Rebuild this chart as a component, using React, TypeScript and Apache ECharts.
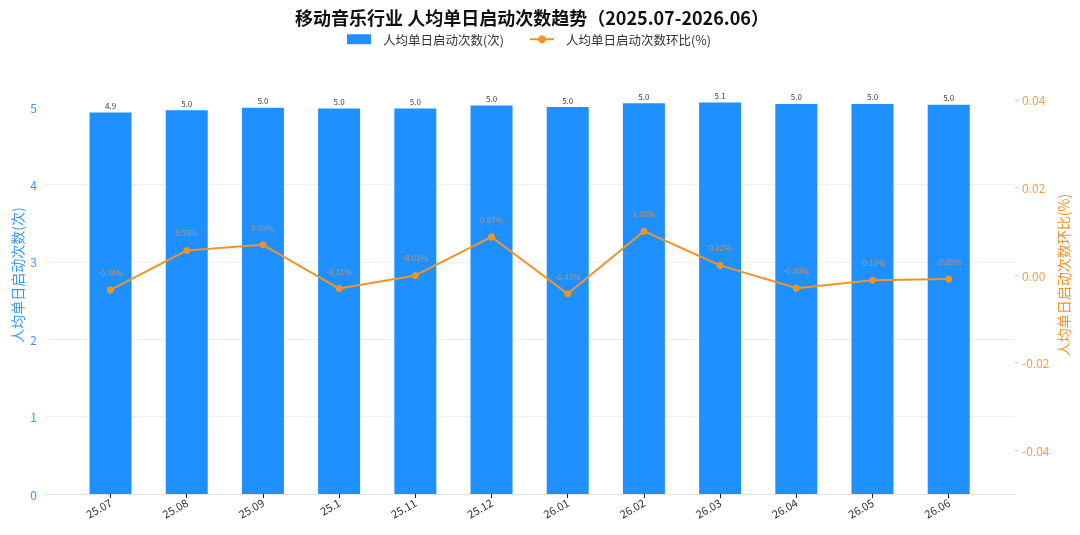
import React, { useEffect, useRef } from "react";
import * as echarts from "echarts";

const categories = ["25.07", "25.08", "25.09", "25.1", "25.11", "25.12", "26.01", "26.02", "26.03", "26.04", "26.05", "26.06"];
const launches = [4.93, 4.96, 4.99, 4.98, 4.98, 5.02, 5.0, 5.05, 5.06, 5.04, 5.04, 5.03];
const momChange = [-0.0034, 0.0056, 0.0069, -0.0031, -0.0001, 0.0087, -0.0043, 0.01, 0.0022, -0.003, -0.0012, -0.0009];
const leftTicks = [0, 1, 2, 3, 4, 5];
const rightTicks = [-0.04, -0.02, 0, 0.02, 0.04];

const FONT = "'Noto Sans CJK SC', 'Noto Sans', sans-serif";
const BLUE = "#1E90FF";
const ORANGE = "#F39325";

export default function App() {
  const ref = useRef<HTMLDivElement>(null);
  useEffect(() => {
    if (!ref.current) return;
    const chart = echarts.init(ref.current, undefined, { renderer: "svg" });
    const idx = categories.map((_, i) => i);
    chart.setOption({
      animation: false,
      textStyle: { fontFamily: FONT },
      title: {
        text: "移动音乐行业 人均单日启动次数趋势（2025.07-2026.06）",
        left: 527,
        textAlign: "center",
        top: 3,
        textStyle: { fontSize: 18, fontWeight: "bold", color: "#111", fontFamily: FONT },
      },
      legend: {
        top: 28,
        left: 342,
        itemGap: 25,
        itemWidth: 24,
        itemHeight: 10,
        textStyle: { fontSize: 12.5, color: "#333", fontFamily: FONT, padding: [0, 0, 0, 7] },
        data: [
          { name: "人均单日启动次数(次)", icon: "rect" },
          { name: "人均单日启动次数环比(%)" },
        ],
      },
      grid: { left: 45, right: 65, top: 56, bottom: 41, containLabel: false, outerBoundsMode: "none" },
      xAxis: {
        type: "value",
        min: -0.86,
        max: 11.87,
        splitLine: { show: false },
        axisLine: { show: true, lineStyle: { color: "#e3e3e3" } },
        axisTick: { show: true, customValues: idx, length: 4, lineStyle: { color: "#222" } },
        axisLabel: {
          customValues: idx,
          rotate: 30,
          fontSize: 11,
          color: "#333",
          margin: 7,
          formatter: (v: number) => categories[Math.round(v)] ?? "",
        },
      },
      yAxis: [
        {
          type: "value",
          min: 0,
          max: 5.66,
          name: "人均单日启动次数(次)",
          nameLocation: "middle",
          nameGap: 21,
          nameMoveOverlap: false,
          nameTextStyle: { fontSize: 14, color: "#3C97F0", fontFamily: FONT },
          axisLine: { show: false },
          axisTick: { show: true, customValues: leftTicks, length: 3, lineStyle: { color: "#9cc4ee" } },
          axisLabel: { customValues: leftTicks, fontSize: 12, color: "#3C97F0", margin: 8 },
          splitLine: { show: true, showMaxLine: false, lineStyle: { color: "#eeeeee", width: 1 } },
        },
        {
          type: "value",
          min: -0.05,
          max: 0.05,
          name: "人均单日启动次数环比(%)",
          nameLocation: "middle",
          nameGap: 41,
          nameMoveOverlap: false,
          nameTextStyle: { fontSize: 14, color: ORANGE, fontFamily: FONT },
          axisLine: { show: false },
          axisTick: { show: true, customValues: rightTicks, length: 3, lineStyle: { color: "#f5c48c" } },
          axisLabel: {
            customValues: rightTicks,
            fontSize: 12,
            color: "#F0A050",
            margin: 7,
            formatter: (v: number) => v.toFixed(2),
          },
          splitLine: { show: false },
        },
      ],
      series: [
        {
          name: "人均单日启动次数(次)",
          type: "bar",
          yAxisIndex: 0,
          barWidth: 42,
          itemStyle: { color: BLUE },
          data: launches.map((v, i) => [i, v]),
          label: {
            show: true,
            position: "top",
            distance: 3,
            fontSize: 8,
            color: "#444",
            formatter: (p: any) => (p.value[1] as number).toFixed(1),
          },
          z: 2,
        },
        {
          name: "人均单日启动次数环比(%)",
          type: "line",
          yAxisIndex: 1,
          symbol: "circle",
          symbolSize: 7,
          lineStyle: { color: ORANGE, width: 2 },
          itemStyle: { color: ORANGE },
          data: momChange.map((v, i) => [i, v]),
          label: {
            show: true,
            position: "top",
            distance: 10,
            fontSize: 8,
            color: "rgba(225,150,80,0.8)",
            formatter: (p: any) => ((p.value[1] as number) * 100).toFixed(2) + "%",
          },
          z: 3,
        },
      ],
    });
    return () => chart.dispose();
  }, []);
  return <div ref={ref} style={{ position: "fixed", left: 0, top: 0, width: 1080, height: 535 }} />;
}
